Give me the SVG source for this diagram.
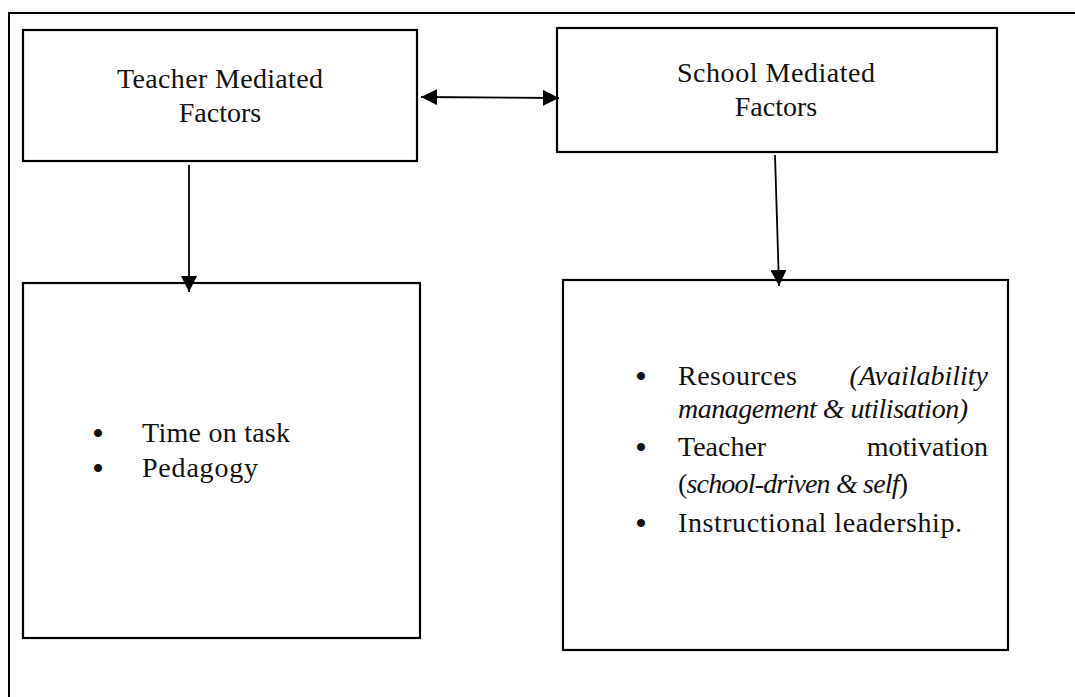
<svg xmlns="http://www.w3.org/2000/svg" width="1075" height="697" viewBox="0 0 1075 697">
<style>
.box{fill:#ffffff;stroke:#000000;stroke-width:2.2}
.frame{fill:none;stroke:#000000;stroke-width:2}
.conn{fill:none;stroke:#000000;stroke-width:1.8}
text{font-family:"Liberation Serif","Times New Roman",serif;font-size:28px;fill:#111111}
.c{text-anchor:middle}
.e{text-anchor:end}
.i{font-style:italic}
.b{font-size:30px;font-weight:bold;text-anchor:middle}
</style>
<defs>
<marker id="ah" viewBox="0 0 16 16" refX="16" refY="8" markerWidth="16" markerHeight="16" markerUnits="userSpaceOnUse" orient="auto-start-reverse">
<path d="M0,0 L16,8 L0,16 Z" fill="#000000"/>
</marker>
</defs>
<rect width="1075" height="697" fill="#ffffff"/>
<path class="frame" d="M9,697 L9,13 L1075,13"/>
<g id="teacher">
<rect class="box" x="23" y="30" width="394" height="131"/>
<text class="c" x="220" y="88" textLength="206" lengthAdjust="spacing">Teacher Mediated</text>
<text class="c" x="220" y="122">Factors</text>
</g>
<g id="school">
<rect class="box" x="557" y="28" width="440" height="124"/>
<text class="c" x="776" y="82" textLength="198" lengthAdjust="spacing">School Mediated</text>
<text class="c" x="776" y="116">Factors</text>
</g>
<g id="teacher-list">
<rect class="box" x="23" y="283" width="397" height="355"/>
<text class="b" x="98" y="443">•</text>
<text x="142" y="442" textLength="148" lengthAdjust="spacing">Time on task</text>
<text class="b" x="98" y="478">•</text>
<text x="142" y="477" textLength="116" lengthAdjust="spacing">Pedagogy</text>
</g>
<g id="school-list">
<rect class="box" x="563" y="280" width="445" height="370"/>
<text class="b" x="641" y="386">•</text>
<text x="678" y="385" textLength="119" lengthAdjust="spacing">Resources</text>
<text class="e i" x="988" y="385">(Availability</text>
<text class="i" x="678" y="418" textLength="290" lengthAdjust="spacing">management &amp; utilisation)</text>
<text class="b" x="641" y="457">•</text>
<text x="678" y="456">Teacher</text>
<text class="e" x="988" y="456">motivation</text>
<text x="678" y="493" textLength="230" lengthAdjust="spacing">(<tspan class="i">school-driven &amp; self</tspan>)</text>
<text class="b" x="641" y="533">•</text>
<text x="678" y="532" textLength="284" lengthAdjust="spacing">Instructional leadership.</text>
</g>
<g id="connectors">
<line class="conn" x1="421" y1="97" x2="559" y2="98" marker-start="url(#ah)" marker-end="url(#ah)"/>
<line class="conn" x1="189" y1="165" x2="189" y2="292" marker-end="url(#ah)"/>
<line class="conn" x1="775" y1="155" x2="779" y2="286" marker-end="url(#ah)"/>
</g>
</svg>
